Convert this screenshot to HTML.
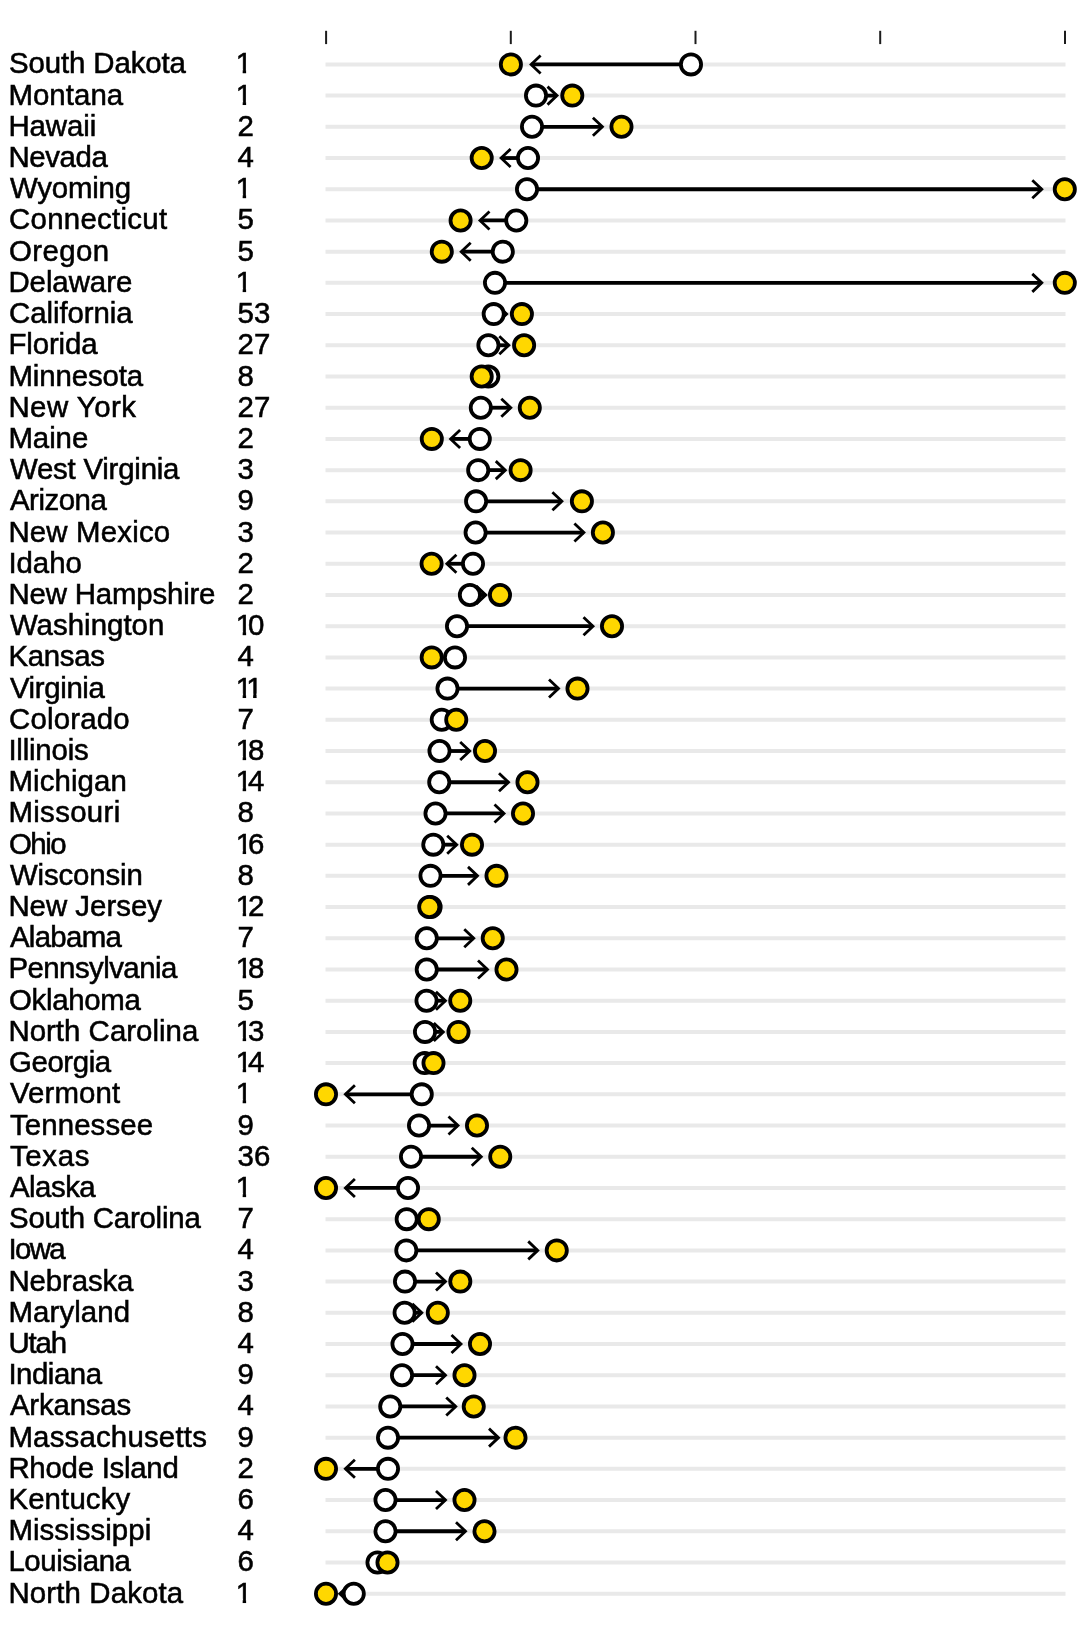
<!DOCTYPE html>
<html><head><meta charset="utf-8"><title>chart</title>
<style>
html,body{margin:0;padding:0;background:#fff;}
body{width:1080px;height:1632px;overflow:hidden;}
svg{display:block;}
text{font-family:"Liberation Sans",sans-serif;font-size:29.4px;fill:#000;stroke:#000;stroke-width:0.55px;}
.g{stroke:#e9e9e9;stroke-width:4;}
.t{stroke:#1c1c1c;stroke-width:2;}
.a{stroke:#000;stroke-width:3.8;fill:none;stroke-linejoin:miter;stroke-miterlimit:10;}
.h{stroke:#000;stroke-width:2.8;fill:none;stroke-linejoin:miter;stroke-miterlimit:10;}
.w{fill:#fff;stroke:#000;stroke-width:3.8;}
.y{fill:#ffd700;stroke:#000;stroke-width:3.8;}
</style></head><body>
<svg style="will-change:transform" width="1080" height="1632" viewBox="0 0 1080 1632">
<defs><clipPath id="c1" clipPathUnits="userSpaceOnUse"><path d="M0 -24H12V-4H10.4V0.6H7.0V-4H0Z"/></clipPath></defs>
<rect width="1080" height="1632" fill="#fff"/>

<line class="t" x1="326.1" y1="30.8" x2="326.1" y2="44.1"/>
<line class="t" x1="510.8" y1="30.8" x2="510.8" y2="44.1"/>
<line class="t" x1="695.5" y1="30.8" x2="695.5" y2="44.1"/>
<line class="t" x1="880.2" y1="30.8" x2="880.2" y2="44.1"/>
<line class="t" x1="1065" y1="30.8" x2="1065" y2="44.1"/>
<g>
<text x="9.0" y="73.4" textLength="176.91">South Dakota</text><text clip-path="url(#c1)" transform="translate(235.7 73.4)">1</text>
<line class="g" x1="325.5" y1="64.4" x2="1065.5" y2="64.4"/>
<path class="a" d="M691.0 64.4 L531.4 64.4"/><path class="h" d="M540.6 55.4 L531.1 64.4 L540.6 73.4"/>
<circle class="w" cx="691.0" cy="64.4" r="10.1"/>
<circle class="y" cx="510.9" cy="64.4" r="10.1"/>
</g>
<g>
<text x="8.4" y="104.61" textLength="114.79">Montana</text><text clip-path="url(#c1)" transform="translate(235.7 104.61)">1</text>
<line class="g" x1="325.5" y1="95.61" x2="1065.5" y2="95.61"/>
<path class="a" d="M536.0 95.61 L556.7 95.61"/><path class="h" d="M547.5 86.61 L557.0 95.61 L547.5 104.61"/>
<circle class="w" cx="536.0" cy="95.61" r="10.1"/>
<circle class="y" cx="572.3" cy="95.61" r="10.1"/>
</g>
<g>
<text x="8.4" y="135.82" textLength="87.9">Hawaii</text><text x="237.6" y="135.82">2</text>
<line class="g" x1="325.5" y1="126.82" x2="1065.5" y2="126.82"/>
<path class="a" d="M532.0 126.82 L602.1 126.82"/><path class="h" d="M592.9 117.82 L602.4 126.82 L592.9 135.82"/>
<circle class="w" cx="532.0" cy="126.82" r="10.1"/>
<circle class="y" cx="621.5" cy="126.82" r="10.1"/>
</g>
<g>
<text x="8.4" y="167.03" textLength="99.41">Nevada</text><text x="237.6" y="167.03">4</text>
<line class="g" x1="325.5" y1="158.03" x2="1065.5" y2="158.03"/>
<path class="a" d="M528.0 158.03 L501.4 158.03"/><path class="h" d="M510.6 149.03 L501.1 158.03 L510.6 167.03"/>
<circle class="w" cx="528.0" cy="158.03" r="10.1"/>
<circle class="y" cx="481.7" cy="158.03" r="10.1"/>
</g>
<g>
<text x="9.9" y="198.24" textLength="121.23">Wyoming</text><text clip-path="url(#c1)" transform="translate(235.7 198.24)">1</text>
<line class="g" x1="325.5" y1="189.24" x2="1065.5" y2="189.24"/>
<path class="a" d="M527.0 189.24 L1041.5 189.24"/><path class="h" d="M1032.3 180.24 L1041.8 189.24 L1032.3 198.24"/>
<circle class="w" cx="527.0" cy="189.24" r="10.1"/>
<circle class="y" cx="1064.8" cy="189.24" r="10.1"/>
</g>
<g>
<text x="9.0" y="229.45" textLength="158.12">Connecticut</text><text x="237.6" y="229.45">5</text>
<line class="g" x1="325.5" y1="220.45" x2="1065.5" y2="220.45"/>
<path class="a" d="M516.3 220.45 L480.3 220.45"/><path class="h" d="M489.5 211.45 L480.0 220.45 L489.5 229.45"/>
<circle class="w" cx="516.3" cy="220.45" r="10.1"/>
<circle class="y" cx="460.6" cy="220.45" r="10.1"/>
</g>
<g>
<text x="9.0" y="260.66" textLength="100.23">Oregon</text><text x="237.6" y="260.66">5</text>
<line class="g" x1="325.5" y1="251.66" x2="1065.5" y2="251.66"/>
<path class="a" d="M502.8 251.66 L461.5 251.66"/><path class="h" d="M470.7 242.66 L461.2 251.66 L470.7 260.66"/>
<circle class="w" cx="502.8" cy="251.66" r="10.1"/>
<circle class="y" cx="441.8" cy="251.66" r="10.1"/>
</g>
<g>
<text x="8.4" y="291.87" textLength="123.86">Delaware</text><text clip-path="url(#c1)" transform="translate(235.7 291.87)">1</text>
<line class="g" x1="325.5" y1="282.87" x2="1065.5" y2="282.87"/>
<path class="a" d="M495.0 282.87 L1041.5 282.87"/><path class="h" d="M1032.3 273.87 L1041.8 282.87 L1032.3 291.87"/>
<circle class="w" cx="495.0" cy="282.87" r="10.1"/>
<circle class="y" cx="1064.8" cy="282.87" r="10.1"/>
</g>
<g>
<text x="9.0" y="323.08" textLength="123.66">California</text><text x="237.6" y="323.08">53</text>
<line class="g" x1="325.5" y1="314.08" x2="1065.5" y2="314.08"/>
<path class="a" d="M493.7 314.08 L506.3 314.08"/><path class="h" d="M497.1 305.08 L506.6 314.08 L497.1 323.08"/>
<circle class="w" cx="493.7" cy="314.08" r="10.1"/>
<circle class="y" cx="521.9" cy="314.08" r="10.1"/>
</g>
<g>
<text x="8.4" y="354.29" textLength="89.24">Florida</text><text x="237.6" y="354.29">27</text>
<line class="g" x1="325.5" y1="345.29" x2="1065.5" y2="345.29"/>
<path class="a" d="M488.4 345.29 L508.5 345.29"/><path class="h" d="M499.3 336.29 L508.8 345.29 L499.3 354.29"/>
<circle class="w" cx="488.4" cy="345.29" r="10.1"/>
<circle class="y" cx="524.1" cy="345.29" r="10.1"/>
</g>
<g>
<text x="8.4" y="385.5" textLength="134.81">Minnesota</text><text x="237.6" y="385.5">8</text>
<line class="g" x1="325.5" y1="376.5" x2="1065.5" y2="376.5"/>
<circle class="w" cx="488.3" cy="376.5" r="10.1"/>
<circle class="y" cx="481.7" cy="376.5" r="10.1"/>
</g>
<g>
<text x="8.4" y="416.71" textLength="127.57">New York</text><text x="237.6" y="416.71">27</text>
<line class="g" x1="325.5" y1="407.71" x2="1065.5" y2="407.71"/>
<path class="a" d="M480.8 407.71 L510.5 407.71"/><path class="h" d="M501.3 398.71 L510.8 407.71 L501.3 416.71"/>
<circle class="w" cx="480.8" cy="407.71" r="10.1"/>
<circle class="y" cx="529.8" cy="407.71" r="10.1"/>
</g>
<g>
<text x="8.4" y="447.92" textLength="79.86">Maine</text><text x="237.6" y="447.92">2</text>
<line class="g" x1="325.5" y1="438.92" x2="1065.5" y2="438.92"/>
<path class="a" d="M479.8 438.92 L450.9 438.92"/><path class="h" d="M460.1 429.92 L450.6 438.92 L460.1 447.92"/>
<circle class="w" cx="479.8" cy="438.92" r="10.1"/>
<circle class="y" cx="431.8" cy="438.92" r="10.1"/>
</g>
<g>
<text x="9.9" y="479.13" textLength="169.58">West Virginia</text><text x="237.6" y="479.13">3</text>
<line class="g" x1="325.5" y1="470.13" x2="1065.5" y2="470.13"/>
<path class="a" d="M478.2 470.13 L505.0 470.13"/><path class="h" d="M495.8 461.13 L505.3 470.13 L495.8 479.13"/>
<circle class="w" cx="478.2" cy="470.13" r="10.1"/>
<circle class="y" cx="520.6" cy="470.13" r="10.1"/>
</g>
<g>
<text x="9.9" y="510.34" textLength="96.96">Arizona</text><text x="237.6" y="510.34">9</text>
<line class="g" x1="325.5" y1="501.34" x2="1065.5" y2="501.34"/>
<path class="a" d="M476.1 501.34 L561.6 501.34"/><path class="h" d="M552.4 492.34 L561.9 501.34 L552.4 510.34"/>
<circle class="w" cx="476.1" cy="501.34" r="10.1"/>
<circle class="y" cx="581.9" cy="501.34" r="10.1"/>
</g>
<g>
<text x="8.4" y="541.55" textLength="161.76">New Mexico</text><text x="237.6" y="541.55">3</text>
<line class="g" x1="325.5" y1="532.55" x2="1065.5" y2="532.55"/>
<path class="a" d="M475.6 532.55 L583.6 532.55"/><path class="h" d="M574.4 523.55 L583.9 532.55 L574.4 541.55"/>
<circle class="w" cx="475.6" cy="532.55" r="10.1"/>
<circle class="y" cx="602.9" cy="532.55" r="10.1"/>
</g>
<g>
<text x="8.4" y="572.76" textLength="73.46">Idaho</text><text x="237.6" y="572.76">2</text>
<line class="g" x1="325.5" y1="563.76" x2="1065.5" y2="563.76"/>
<path class="a" d="M473.0 563.76 L447.2 563.76"/><path class="h" d="M456.4 554.76 L446.9 563.76 L456.4 572.76"/>
<circle class="w" cx="473.0" cy="563.76" r="10.1"/>
<circle class="y" cx="431.6" cy="563.76" r="10.1"/>
</g>
<g>
<text x="8.4" y="603.97" textLength="207.08">New Hampshire</text><text x="237.6" y="603.97">2</text>
<line class="g" x1="325.5" y1="594.97" x2="1065.5" y2="594.97"/>
<path class="a" d="M469.9 594.97 L485.5 594.97"/><path class="h" d="M476.3 585.97 L485.8 594.97 L476.3 603.97"/>
<circle class="w" cx="469.9" cy="594.97" r="10.1"/>
<circle class="y" cx="500.0" cy="594.97" r="10.1"/>
</g>
<g>
<text x="9.9" y="635.18" textLength="154.43">Washington</text><text clip-path="url(#c1)" transform="translate(235.7 635.18)">1</text><text x="248.05" y="635.18">0</text>
<line class="g" x1="325.5" y1="626.18" x2="1065.5" y2="626.18"/>
<path class="a" d="M457.0 626.18 L592.7 626.18"/><path class="h" d="M583.5 617.18 L593.0 626.18 L583.5 635.18"/>
<circle class="w" cx="457.0" cy="626.18" r="10.1"/>
<circle class="y" cx="612.0" cy="626.18" r="10.1"/>
</g>
<g>
<text x="8.4" y="666.39" textLength="96.53">Kansas</text><text x="237.6" y="666.39">4</text>
<line class="g" x1="325.5" y1="657.39" x2="1065.5" y2="657.39"/>
<path class="a" d="M455.0 657.39 L447.3 657.39"/><path class="h" d="M456.5 648.39 L447.0 657.39 L456.5 666.39"/>
<circle class="w" cx="455.0" cy="657.39" r="10.1"/>
<circle class="y" cx="431.7" cy="657.39" r="10.1"/>
</g>
<g>
<text x="9.9" y="697.6" textLength="95.0">Virginia</text><text clip-path="url(#c1)" transform="translate(235.7 697.6)">1</text><text clip-path="url(#c1)" transform="translate(246.15 697.6)">1</text>
<line class="g" x1="325.5" y1="688.6" x2="1065.5" y2="688.6"/>
<path class="a" d="M447.5 688.6 L558.2 688.6"/><path class="h" d="M549.0 679.6 L558.5 688.6 L549.0 697.6"/>
<circle class="w" cx="447.5" cy="688.6" r="10.1"/>
<circle class="y" cx="577.5" cy="688.6" r="10.1"/>
</g>
<g>
<text x="9.0" y="728.81" textLength="120.58">Colorado</text><text x="237.6" y="728.81">7</text>
<line class="g" x1="325.5" y1="719.81" x2="1065.5" y2="719.81"/>
<circle class="w" cx="441.75" cy="719.81" r="10.1"/>
<circle class="y" cx="456.25" cy="719.81" r="10.1"/>
</g>
<g>
<text x="8.4" y="760.02" textLength="80.27">Illinois</text><text clip-path="url(#c1)" transform="translate(235.7 760.02)">1</text><text x="248.05" y="760.02">8</text>
<line class="g" x1="325.5" y1="751.02" x2="1065.5" y2="751.02"/>
<path class="a" d="M439.5 751.02 L469.4 751.02"/><path class="h" d="M460.2 742.02 L469.7 751.02 L460.2 760.02"/>
<circle class="w" cx="439.5" cy="751.02" r="10.1"/>
<circle class="y" cx="485.0" cy="751.02" r="10.1"/>
</g>
<g>
<text x="8.4" y="791.23" textLength="118.52">Michigan</text><text clip-path="url(#c1)" transform="translate(235.7 791.23)">1</text><text x="248.05" y="791.23">4</text>
<line class="g" x1="325.5" y1="782.23" x2="1065.5" y2="782.23"/>
<path class="a" d="M439.25 782.23 L508.2 782.23"/><path class="h" d="M499.0 773.23 L508.5 782.23 L499.0 791.23"/>
<circle class="w" cx="439.25" cy="782.23" r="10.1"/>
<circle class="y" cx="527.5" cy="782.23" r="10.1"/>
</g>
<g>
<text x="8.4" y="822.44" textLength="111.82">Missouri</text><text x="237.6" y="822.44">8</text>
<line class="g" x1="325.5" y1="813.44" x2="1065.5" y2="813.44"/>
<path class="a" d="M435.5 813.44 L503.7 813.44"/><path class="h" d="M494.5 804.44 L504.0 813.44 L494.5 822.44"/>
<circle class="w" cx="435.5" cy="813.44" r="10.1"/>
<circle class="y" cx="523.0" cy="813.44" r="10.1"/>
</g>
<g>
<text x="9.0" y="853.65" textLength="57.59">Ohio</text><text clip-path="url(#c1)" transform="translate(235.7 853.65)">1</text><text x="248.05" y="853.65">6</text>
<line class="g" x1="325.5" y1="844.65" x2="1065.5" y2="844.65"/>
<path class="a" d="M433.3 844.65 L456.4 844.65"/><path class="h" d="M447.2 835.65 L456.7 844.65 L447.2 853.65"/>
<circle class="w" cx="433.3" cy="844.65" r="10.1"/>
<circle class="y" cx="472.0" cy="844.65" r="10.1"/>
</g>
<g>
<text x="9.9" y="884.86" textLength="132.84">Wisconsin</text><text x="237.6" y="884.86">8</text>
<line class="g" x1="325.5" y1="875.86" x2="1065.5" y2="875.86"/>
<path class="a" d="M430.5 875.86 L477.2 875.86"/><path class="h" d="M468.0 866.86 L477.5 875.86 L468.0 884.86"/>
<circle class="w" cx="430.5" cy="875.86" r="10.1"/>
<circle class="y" cx="496.5" cy="875.86" r="10.1"/>
</g>
<g>
<text x="8.4" y="916.07" textLength="153.53">New Jersey</text><text clip-path="url(#c1)" transform="translate(235.7 916.07)">1</text><text x="248.05" y="916.07">2</text>
<line class="g" x1="325.5" y1="907.07" x2="1065.5" y2="907.07"/>
<circle class="w" cx="430.6" cy="907.07" r="10.1"/>
<circle class="y" cx="429.25" cy="907.07" r="10.1"/>
</g>
<g>
<text x="9.9" y="947.28" textLength="112.0">Alabama</text><text x="237.6" y="947.28">7</text>
<line class="g" x1="325.5" y1="938.28" x2="1065.5" y2="938.28"/>
<path class="a" d="M426.75 938.28 L473.45 938.28"/><path class="h" d="M464.25 929.28 L473.75 938.28 L464.25 947.28"/>
<circle class="w" cx="426.75" cy="938.28" r="10.1"/>
<circle class="y" cx="492.75" cy="938.28" r="10.1"/>
</g>
<g>
<text x="8.4" y="978.49" textLength="168.93">Pennsylvania</text><text clip-path="url(#c1)" transform="translate(235.7 978.49)">1</text><text x="248.05" y="978.49">8</text>
<line class="g" x1="325.5" y1="969.49" x2="1065.5" y2="969.49"/>
<path class="a" d="M426.75 969.49 L487.2 969.49"/><path class="h" d="M478.0 960.49 L487.5 969.49 L478.0 978.49"/>
<circle class="w" cx="426.75" cy="969.49" r="10.1"/>
<circle class="y" cx="506.5" cy="969.49" r="10.1"/>
</g>
<g>
<text x="9.0" y="1009.7" textLength="131.75">Oklahoma</text><text x="237.6" y="1009.7">5</text>
<line class="g" x1="325.5" y1="1000.7" x2="1065.5" y2="1000.7"/>
<path class="a" d="M426.5 1000.7 L445.15 1000.7"/><path class="h" d="M435.95 991.7 L445.45 1000.7 L435.95 1009.7"/>
<circle class="w" cx="426.5" cy="1000.7" r="10.1"/>
<circle class="y" cx="460.25" cy="1000.7" r="10.1"/>
</g>
<g>
<text x="8.4" y="1040.91" textLength="189.9">North Carolina</text><text clip-path="url(#c1)" transform="translate(235.7 1040.91)">1</text><text x="248.05" y="1040.91">3</text>
<line class="g" x1="325.5" y1="1031.91" x2="1065.5" y2="1031.91"/>
<path class="a" d="M425.0 1031.91 L443.0 1031.91"/><path class="h" d="M433.8 1022.91 L443.3 1031.91 L433.8 1040.91"/>
<circle class="w" cx="425.0" cy="1031.91" r="10.1"/>
<circle class="y" cx="458.5" cy="1031.91" r="10.1"/>
</g>
<g>
<text x="9.0" y="1072.12" textLength="102.16">Georgia</text><text clip-path="url(#c1)" transform="translate(235.7 1072.12)">1</text><text x="248.05" y="1072.12">4</text>
<line class="g" x1="325.5" y1="1063.12" x2="1065.5" y2="1063.12"/>
<circle class="w" cx="424.7" cy="1063.12" r="10.1"/>
<circle class="y" cx="433.5" cy="1063.12" r="10.1"/>
</g>
<g>
<text x="9.9" y="1103.33" textLength="110.27">Vermont</text><text clip-path="url(#c1)" transform="translate(235.7 1103.33)">1</text>
<line class="g" x1="325.5" y1="1094.33" x2="1065.5" y2="1094.33"/>
<path class="a" d="M421.75 1094.33 L345.7 1094.33"/><path class="h" d="M354.9 1085.33 L345.4 1094.33 L354.9 1103.33"/>
<circle class="w" cx="421.75" cy="1094.33" r="10.1"/>
<circle class="y" cx="326.0" cy="1094.33" r="10.1"/>
</g>
<g>
<text x="9.9" y="1134.54" textLength="143.17">Tennessee</text><text x="237.6" y="1134.54">9</text>
<line class="g" x1="325.5" y1="1125.54" x2="1065.5" y2="1125.54"/>
<path class="a" d="M419.0 1125.54 L457.7 1125.54"/><path class="h" d="M448.5 1116.54 L458.0 1125.54 L448.5 1134.54"/>
<circle class="w" cx="419.0" cy="1125.54" r="10.1"/>
<circle class="y" cx="477.0" cy="1125.54" r="10.1"/>
</g>
<g>
<text x="9.9" y="1165.75" textLength="79.48">Texas</text><text x="237.6" y="1165.75">36</text>
<line class="g" x1="325.5" y1="1156.75" x2="1065.5" y2="1156.75"/>
<path class="a" d="M411.0 1156.75 L480.95 1156.75"/><path class="h" d="M471.75 1147.75 L481.25 1156.75 L471.75 1165.75"/>
<circle class="w" cx="411.0" cy="1156.75" r="10.1"/>
<circle class="y" cx="500.25" cy="1156.75" r="10.1"/>
</g>
<g>
<text x="9.9" y="1196.96" textLength="85.82">Alaska</text><text clip-path="url(#c1)" transform="translate(235.7 1196.96)">1</text>
<line class="g" x1="325.5" y1="1187.96" x2="1065.5" y2="1187.96"/>
<path class="a" d="M408.0 1187.96 L345.7 1187.96"/><path class="h" d="M354.9 1178.96 L345.4 1187.96 L354.9 1196.96"/>
<circle class="w" cx="408.0" cy="1187.96" r="10.1"/>
<circle class="y" cx="326.0" cy="1187.96" r="10.1"/>
</g>
<g>
<text x="9.0" y="1228.17" textLength="191.74">South Carolina</text><text x="237.6" y="1228.17">7</text>
<line class="g" x1="325.5" y1="1219.17" x2="1065.5" y2="1219.17"/>
<path class="a" d="M406.7 1219.17 L413.15 1219.17"/><path class="h" d="M403.95 1210.17 L413.45 1219.17 L403.95 1228.17"/>
<circle class="w" cx="406.7" cy="1219.17" r="10.1"/>
<circle class="y" cx="428.75" cy="1219.17" r="10.1"/>
</g>
<g>
<text x="8.4" y="1259.38" textLength="57.19">Iowa</text><text x="237.6" y="1259.38">4</text>
<line class="g" x1="325.5" y1="1250.38" x2="1065.5" y2="1250.38"/>
<path class="a" d="M406.3 1250.38 L537.45 1250.38"/><path class="h" d="M528.25 1241.38 L537.75 1250.38 L528.25 1259.38"/>
<circle class="w" cx="406.3" cy="1250.38" r="10.1"/>
<circle class="y" cx="556.75" cy="1250.38" r="10.1"/>
</g>
<g>
<text x="8.4" y="1290.59" textLength="125.0">Nebraska</text><text x="237.6" y="1290.59">3</text>
<line class="g" x1="325.5" y1="1281.59" x2="1065.5" y2="1281.59"/>
<path class="a" d="M405.0 1281.59 L445.2 1281.59"/><path class="h" d="M436.0 1272.59 L445.5 1281.59 L436.0 1290.59"/>
<circle class="w" cx="405.0" cy="1281.59" r="10.1"/>
<circle class="y" cx="460.3" cy="1281.59" r="10.1"/>
</g>
<g>
<text x="8.4" y="1321.8" textLength="121.79">Maryland</text><text x="237.6" y="1321.8">8</text>
<line class="g" x1="325.5" y1="1312.8" x2="1065.5" y2="1312.8"/>
<path class="a" d="M404.6 1312.8 L421.5 1312.8"/><path class="h" d="M412.3 1303.8 L421.8 1312.8 L412.3 1321.8"/>
<circle class="w" cx="404.6" cy="1312.8" r="10.1"/>
<circle class="y" cx="437.8" cy="1312.8" r="10.1"/>
</g>
<g>
<text x="8.4" y="1353.01" textLength="58.69">Utah</text><text x="237.6" y="1353.01">4</text>
<line class="g" x1="325.5" y1="1344.01" x2="1065.5" y2="1344.01"/>
<path class="a" d="M402.5 1344.01 L460.7 1344.01"/><path class="h" d="M451.5 1335.01 L461.0 1344.01 L451.5 1353.01"/>
<circle class="w" cx="402.5" cy="1344.01" r="10.1"/>
<circle class="y" cx="480.0" cy="1344.01" r="10.1"/>
</g>
<g>
<text x="8.4" y="1384.22" textLength="93.64">Indiana</text><text x="237.6" y="1384.22">9</text>
<line class="g" x1="325.5" y1="1375.22" x2="1065.5" y2="1375.22"/>
<path class="a" d="M402.0 1375.22 L445.2 1375.22"/><path class="h" d="M436.0 1366.22 L445.5 1375.22 L436.0 1384.22"/>
<circle class="w" cx="402.0" cy="1375.22" r="10.1"/>
<circle class="y" cx="464.5" cy="1375.22" r="10.1"/>
</g>
<g>
<text x="9.9" y="1415.43" textLength="121.32">Arkansas</text><text x="237.6" y="1415.43">4</text>
<line class="g" x1="325.5" y1="1406.43" x2="1065.5" y2="1406.43"/>
<path class="a" d="M390.25 1406.43 L455.45 1406.43"/><path class="h" d="M446.25 1397.43 L455.75 1406.43 L446.25 1415.43"/>
<circle class="w" cx="390.25" cy="1406.43" r="10.1"/>
<circle class="y" cx="473.75" cy="1406.43" r="10.1"/>
</g>
<g>
<text x="8.4" y="1446.64" textLength="198.43">Massachusetts</text><text x="237.6" y="1446.64">9</text>
<line class="g" x1="325.5" y1="1437.64" x2="1065.5" y2="1437.64"/>
<path class="a" d="M388.0 1437.64 L498.2 1437.64"/><path class="h" d="M489.0 1428.64 L498.5 1437.64 L489.0 1446.64"/>
<circle class="w" cx="388.0" cy="1437.64" r="10.1"/>
<circle class="y" cx="515.5" cy="1437.64" r="10.1"/>
</g>
<g>
<text x="8.4" y="1477.85" textLength="170.4">Rhode Island</text><text x="237.6" y="1477.85">2</text>
<line class="g" x1="325.5" y1="1468.85" x2="1065.5" y2="1468.85"/>
<path class="a" d="M388.0 1468.85 L345.7 1468.85"/><path class="h" d="M354.9 1459.85 L345.4 1468.85 L354.9 1477.85"/>
<circle class="w" cx="388.0" cy="1468.85" r="10.1"/>
<circle class="y" cx="326.0" cy="1468.85" r="10.1"/>
</g>
<g>
<text x="8.4" y="1509.06" textLength="121.81">Kentucky</text><text x="237.6" y="1509.06">6</text>
<line class="g" x1="325.5" y1="1500.06" x2="1065.5" y2="1500.06"/>
<path class="a" d="M385.5 1500.06 L445.2 1500.06"/><path class="h" d="M436.0 1491.06 L445.5 1500.06 L436.0 1509.06"/>
<circle class="w" cx="385.5" cy="1500.06" r="10.1"/>
<circle class="y" cx="464.5" cy="1500.06" r="10.1"/>
</g>
<g>
<text x="8.4" y="1540.27" textLength="142.78">Mississippi</text><text x="237.6" y="1540.27">4</text>
<line class="g" x1="325.5" y1="1531.27" x2="1065.5" y2="1531.27"/>
<path class="a" d="M385.5 1531.27 L465.2 1531.27"/><path class="h" d="M456.0 1522.27 L465.5 1531.27 L456.0 1540.27"/>
<circle class="w" cx="385.5" cy="1531.27" r="10.1"/>
<circle class="y" cx="484.5" cy="1531.27" r="10.1"/>
</g>
<g>
<text x="8.4" y="1571.48" textLength="122.54">Louisiana</text><text x="237.6" y="1571.48">6</text>
<line class="g" x1="325.5" y1="1562.48" x2="1065.5" y2="1562.48"/>
<circle class="w" cx="377.5" cy="1562.48" r="10.1"/>
<circle class="y" cx="387.5" cy="1562.48" r="10.1"/>
</g>
<g>
<text x="8.4" y="1602.69" textLength="174.77">North Dakota</text><text clip-path="url(#c1)" transform="translate(235.7 1602.69)">1</text>
<line class="g" x1="325.5" y1="1593.69" x2="1065.5" y2="1593.69"/>
<path class="a" d="M353.75 1593.69 L340.1 1593.69"/><path class="h" d="M349.3 1584.69 L339.8 1593.69 L349.3 1602.69"/>
<circle class="w" cx="353.75" cy="1593.69" r="10.1"/>
<circle class="y" cx="326.0" cy="1593.69" r="10.1"/>
</g>
</svg></body></html>
